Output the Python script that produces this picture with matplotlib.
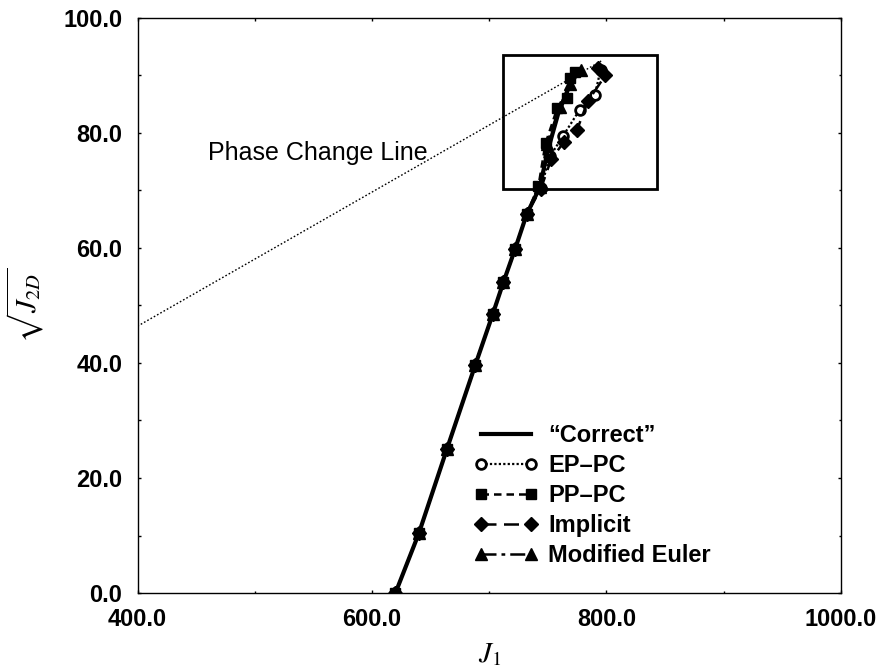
import matplotlib
matplotlib.use("Agg")
import matplotlib.pyplot as plt
from matplotlib.patches import Rectangle
from matplotlib.ticker import MultipleLocator, FormatStrFormatter

plt.rcParams['font.family'] = ['Liberation Sans', 'DejaVu Sans']
plt.rcParams['mathtext.fontset'] = 'stix'

# ---- data ----
correct_J1 = [620, 640, 664, 688, 703, 712, 722, 732, 743, 750, 759, 767, 776]
correct_q = [0.0, 10.4, 25.1, 39.6, 48.5, 54.0, 59.8, 65.9, 70.5, 77.0, 83.5, 87.5, 90.8]

eppc_J1 = [620, 640, 664, 688, 703, 712, 722, 732, 744, 752, 763, 777, 790, 795]
eppc_q = [0.0, 10.4, 25.1, 39.6, 48.5, 54.0, 59.8, 65.9, 70.5, 76.0, 79.5, 84.0, 86.6, 91.0]

pppc_J1 = [620, 640, 664, 688, 703, 712, 722, 732, 742, 748, 758, 766, 769, 773]
pppc_q = [0.0, 10.4, 25.1, 39.6, 48.5, 54.0, 59.8, 65.9, 70.8, 78.2, 84.3, 86.0, 89.5, 90.6]

impl_J1 = [620, 640, 664, 688, 703, 712, 722, 732, 744, 753, 764, 775, 784, 799, 793]
impl_q = [0.0, 10.4, 25.1, 39.6, 48.5, 54.0, 59.8, 65.9, 70.3, 75.5, 78.5, 80.6, 85.5, 90.0, 91.3]

meul_J1 = [620, 640, 664, 688, 703, 712, 722, 732, 743, 749, 760, 769, 778]
meul_q = [0.0, 10.4, 25.1, 39.6, 48.5, 54.0, 59.8, 65.9, 70.6, 78.0, 84.5, 88.5, 91.0]

phase_J1 = [400, 797]
phase_q = [46.4, 92.7]

box_J1 = [712, 843]
box_q = [70.2, 93.6]

x_ticks = [400, 600, 800, 1000]
y_ticks = [0, 20, 40, 60, 80, 100]

fig = plt.figure(figsize=(8.82, 6.69), dpi=100)
ax = fig.add_axes([0.1559, 0.1136, 0.7976, 0.8595])

ax.plot(phase_J1, phase_q, color='black', lw=1.0, linestyle=(0, (1.2, 1.5)))

ax.plot(correct_J1, correct_q, color='black', lw=3.0, label='\u201cCorrect\u201d', zorder=5)
ax.plot(eppc_J1, eppc_q, color='black', lw=1.6, linestyle=(0, (1, 1)), marker='o',
        ms=7, mfc='white', mew=2.0, label='EP\u2013PC', zorder=4)
ax.plot(pppc_J1, pppc_q, color='black', lw=1.8, linestyle=(0, (3, 2)), marker='s',
        ms=7, label='PP\u2013PC', zorder=4)
ax.plot(impl_J1, impl_q, color='black', lw=1.8, linestyle=(0, (6, 3)), marker='D',
        ms=7, label='Implicit', zorder=4)
ax.plot(meul_J1, meul_q, color='black', lw=1.8, linestyle=(0, (6, 2, 1.5, 2)), marker='^',
        ms=8, label='Modified Euler', zorder=4)

ax.add_patch(Rectangle((box_J1[0], box_q[0]), box_J1[1] - box_J1[0], box_q[1] - box_q[0],
                       fill=False, lw=2.0, edgecolor='black', zorder=6))

ax.text(460.5, 76.5, 'Phase Change Line', fontsize=18, va='center', ha='left')

ax.set_xlim(400, 1000)
ax.set_ylim(0, 100)
ax.set_xticks(x_ticks)
ax.set_yticks(y_ticks)
ax.xaxis.set_minor_locator(MultipleLocator(100))
ax.yaxis.set_minor_locator(MultipleLocator(10))
ax.xaxis.set_major_formatter(FormatStrFormatter('%.1f'))
ax.yaxis.set_major_formatter(FormatStrFormatter('%.1f'))
ax.tick_params(which='both', direction='in', top=True, right=True, width=1.0)
ax.tick_params(which='major', length=2.5, labelsize=17, pad=11)
ax.tick_params(which='minor', length=1.8)
for lab in ax.get_xticklabels() + ax.get_yticklabels():
    lab.set_fontweight('bold')
for sp in ax.spines.values():
    sp.set_linewidth(1.0)

ax.set_xlabel(r'$J_1$', fontsize=21, labelpad=6)
ax.set_ylabel(r'$\sqrt{J_{2D}}$', fontsize=21, labelpad=12)

leg = ax.legend(loc='upper left', bbox_to_anchor=(474 / 882, 1 - 424 / 669),
                bbox_transform=fig.transFigure, frameon=False, numpoints=2,
                prop={'weight': 'bold', 'size': 17}, handlelength=2.7,
                handletextpad=0.45, labelspacing=0.3, borderpad=0, borderaxespad=0)

fig.savefig('out.png', dpi=100)
